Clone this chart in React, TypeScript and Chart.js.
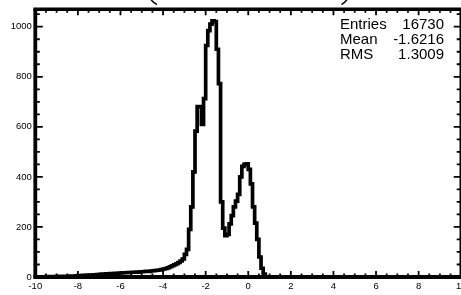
import React, { useEffect, useRef } from "react";
import { Chart, registerables } from "chart.js";

Chart.register(...registerables);

// ---- data (histogram, 200 bins of 0.1 from -10 to 10) ----
const X_MIN = -10;
const X_MAX = 10;
const BIN_WIDTH = 0.1;
const Y_MAX = 1070;

// -10 .. -5
const leftTailCounts = [
  0, 1, 0, 1, 1, 2, 1, 2, 2, 1,
  3, 2, 2, 3, 3, 2, 4, 3, 4, 5,
  6, 5, 7, 6, 8, 7, 8, 9, 8, 10,
  11, 12, 12, 13, 13, 14, 14, 15, 14, 16,
  16, 17, 17, 18, 18, 19, 19, 20, 19, 21,
];
// -5 .. -3
const riseCounts = [
  21, 22, 23, 22, 24, 25, 26, 27, 28, 30,
  32, 34, 37, 41, 45, 49, 53, 58, 64, 72,
];
// -3 .. -1
const mainPeakCounts = [
  90, 110, 190, 280, 420, 583, 681, 681, 610, 713,
  925, 984, 1010, 1023, 1020, 910, 773, 300, 195, 165,
];
// -1 .. 1
const secondPeakCounts = [
  170, 212, 245, 280, 303, 330, 400, 442, 450, 452,
  430, 372, 280, 215, 150, 80, 35, 12, 0, 0,
];
// 1 .. 10
const rightTailCounts = [
  0, 0, 0, 0, 0, 0, 0, 0, 0, 0,
  0, 0, 0, 0, 0, 0, 0, 0, 0, 0,
  0, 0, 0, 0, 0, 0, 0, 0, 0, 0,
  0, 0, 0, 0, 0, 0, 0, 0, 0, 0,
  0, 0, 0, 0, 0, 0, 0, 0, 0, 0,
  0, 0, 0, 0, 0, 0, 0, 0, 0, 0,
  0, 0, 0, 0, 0, 0, 0, 0, 0, 0,
  0, 0, 0, 0, 0, 0, 0, 0, 0, 0,
  0, 0, 0, 0, 0, 0, 0, 0, 0, 0,
];

const xTickValues = [-10, -8, -6, -4, -2, 0, 2, 4, 6, 8, 10];
const yTickValues = [0, 200, 400, 600, 800, 1000];
const statsNames = ["Entries", "Mean", "RMS"];
const statsValues = ["16730", "-1.6216", "1.3009"];

const CANVAS_W = 470;
const CANVAS_H = 295;
const FONT = '"Liberation Sans", Arial, Helvetica, sans-serif';

export default function App() {
  const ref = useRef<HTMLCanvasElement>(null);

  useEffect(() => {
    const canvas = ref.current;
    if (!canvas) return;
    const counts = [
      ...leftTailCounts,
      ...riseCounts,
      ...mainPeakCounts,
      ...secondPeakCounts,
      ...rightTailCounts,
    ];
    const points = counts.map((c, i) => ({ x: X_MIN + i * BIN_WIDTH, y: c }));
    points.push({ x: X_MAX, y: counts[counts.length - 1] });

    const framePlugin = {
      id: "rootFrame",
      afterDatasetsDraw(chart: any) {
        const { ctx, chartArea: a, scales } = chart;
        const xs = scales.x;
        const ys = scales.y;
        ctx.save();
        ctx.strokeStyle = "#000";
        ctx.lineCap = "butt";
        // ticks on x (bottom and top)
        ctx.lineWidth = 1.8;
        for (let k = 0; k <= 40; k++) {
          const v = X_MIN + k * 0.5;
          const px = xs.getPixelForValue(v);
          const major = k % 4 === 0;
          const len = major ? 6 : 3.5;
          ctx.beginPath();
          ctx.moveTo(px, a.bottom);
          ctx.lineTo(px, a.bottom - len);
          ctx.moveTo(px, a.top);
          ctx.lineTo(px, a.top + len);
          ctx.stroke();
        }
        // ticks on y (left and right)
        for (let k = 0; k * 50 <= Y_MAX; k++) {
          const v = k * 50;
          const py = ys.getPixelForValue(v);
          const major = k % 4 === 0;
          const len = major ? 7.5 : 4.5;
          ctx.beginPath();
          ctx.moveTo(a.left, py);
          ctx.lineTo(a.left + len, py);
          ctx.moveTo(a.right, py);
          ctx.lineTo(a.right - len, py);
          ctx.stroke();
        }
        // frame
        ctx.lineWidth = 4.2;
        ctx.beginPath();
        ctx.moveTo(a.left - 2, a.bottom);
        ctx.lineTo(a.right + 2, a.bottom);
        ctx.stroke();
        ctx.lineWidth = 3.8;
        ctx.beginPath();
        ctx.moveTo(a.left, a.bottom);
        ctx.lineTo(a.left, a.top);
        ctx.stroke();
        ctx.lineWidth = 3.4;
        ctx.beginPath();
        ctx.moveTo(a.left - 1.9, a.top);
        ctx.lineTo(a.right, a.top);
        ctx.lineTo(a.right, a.bottom);
        ctx.stroke();

        // partially visible title box corners at the top
        ctx.lineWidth = 1.5;
        ctx.beginPath();
        ctx.moveTo(150.5, -1);
        ctx.quadraticCurveTo(153, 2.5, 157, 4.6);
        ctx.moveTo(347.5, -1);
        ctx.quadraticCurveTo(345, 2.5, 341.5, 4.6);
        ctx.stroke();

        // statistics text
        ctx.fillStyle = "#000";
        ctx.font = `15px ${FONT}`;
        ctx.textBaseline = "alphabetic";
        statsNames.forEach((name, i) => {
          const base = 28.6 + i * 15.3;
          ctx.textAlign = "left";
          ctx.fillText(name, 340, base);
          ctx.textAlign = "right";
          ctx.fillText(statsValues[i], 444, base);
        });
        ctx.restore();
      },
    };

    const chart = new Chart(canvas, {
      type: "line",
      data: {
        datasets: [
          {
            data: points,
            borderColor: "#000",
            borderWidth: 3.7,
            stepped: true,
            pointRadius: 0,
            fill: false,
            tension: 0,
            borderJoinStyle: "miter",
          } as any,
        ],
      },
      options: {
        animation: false,
        responsive: false,
        devicePixelRatio: 1,
        layout: {
          padding: { left: 0, right: CANVAS_W - 461.5, top: 6.7, bottom: 0 },
        },
        plugins: {
          legend: { display: false },
          tooltip: { enabled: false },
          title: { display: false },
        },
        scales: {
          x: {
            type: "linear",
            min: X_MIN,
            max: X_MAX,
            border: { display: false },
            grid: { display: false, drawTicks: false },
            afterBuildTicks: (s: any) => {
              s.ticks = xTickValues.map((v) => ({ value: v }));
            },
            ticks: {
              autoSkip: false,
              maxRotation: 0,
              minRotation: 0,
              padding: 3.5,
              color: "#000",
              font: { family: FONT, size: 9.5 },
              callback: (v: any) => String(v),
            },
            afterFit: (s: any) => {
              s.height = CANVAS_H - 277;
            },
          },
          y: {
            type: "linear",
            min: 0,
            max: Y_MAX,
            border: { display: false },
            grid: { display: false, drawTicks: false },
            afterBuildTicks: (s: any) => {
              s.ticks = yTickValues.map((v) => ({ value: v }));
            },
            ticks: {
              autoSkip: false,
              padding: 3.5,
              color: "#000",
              font: { family: FONT, size: 9.5 },
              callback: (v: any) => String(v),
            },
            afterFit: (s: any) => {
              s.width = 35.3;
            },
          },
        },
      } as any,
      plugins: [framePlugin],
    });

    return () => {
      chart.destroy();
    };
  }, []);

  return (
    <div
      style={{
        position: "fixed",
        left: 0,
        top: 0,
        width: 461,
        height: 295,
        overflow: "hidden",
        background: "#fff",
      }}
    >
      <canvas
        ref={ref}
        width={CANVAS_W}
        height={CANVAS_H}
        style={{ display: "block", width: CANVAS_W, height: CANVAS_H }}
      />
    </div>
  );
}
